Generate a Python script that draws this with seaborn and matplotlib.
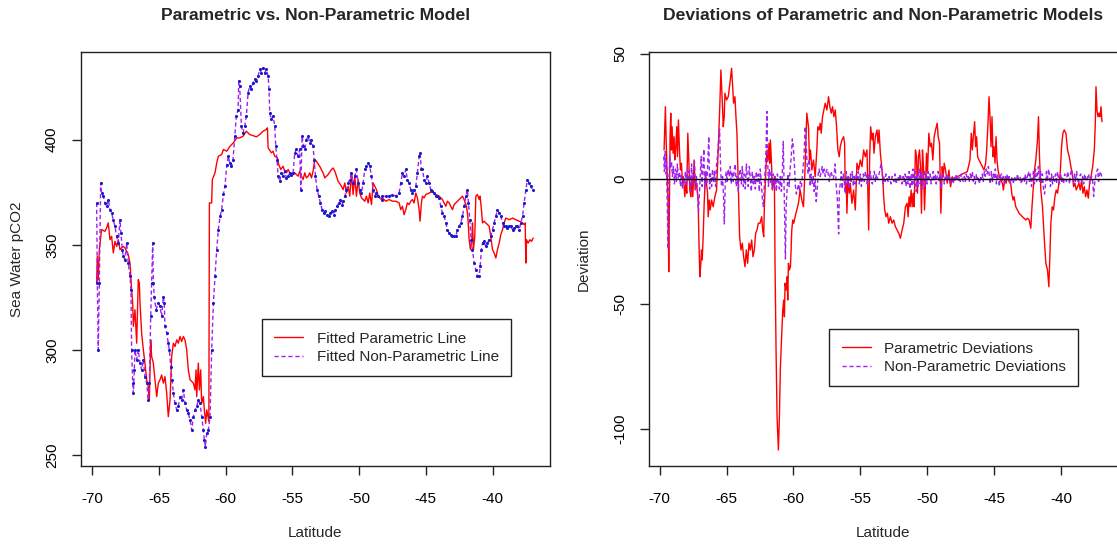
import matplotlib
matplotlib.use("Agg")
import matplotlib.pyplot as plt
import seaborn as sns
import pandas as pd

# ---------------------------------------------------------------------------
# Fitted sea-water pCO2 along the transect: (latitude, pCO2)
# ---------------------------------------------------------------------------
fit_parametric = [
    (-69.67, 331.8), (-69.62, 344.5), (-69.55, 333.4), (-69.47, 347.7), (-69.30, 357.2),
    (-69.05, 356.4), (-68.92, 358.0), (-68.80, 360.4), (-68.67, 352.4), (-68.55, 354.0),
    (-68.42, 346.1), (-68.30, 351.6), (-68.17, 349.2), (-68.05, 352.4), (-67.92, 347.7),
    (-67.67, 349.2), (-67.55, 348.5), (-67.30, 345.3), (-67.17, 341.3), (-67.10, 333.4),
    (-67.05, 328.6), (-66.97, 322.3), (-66.92, 311.2), (-66.80, 319.1), (-66.67, 303.2),
    (-66.55, 333.4), (-66.47, 331.8), (-66.42, 322.3), (-66.30, 308.0), (-66.17, 300.0),
    (-66.05, 293.7), (-65.92, 285.8), (-65.80, 282.6), (-65.72, 276.2), (-65.62, 304.8),
    (-65.55, 296.9), (-65.42, 293.7), (-65.30, 285.8), (-65.17, 277.8), (-65.05, 284.2),
    (-64.92, 285.8), (-64.80, 288.1), (-64.67, 284.2), (-64.55, 287.3), (-64.42, 279.4),
    (-64.30, 268.3), (-64.17, 276.2), (-64.05, 296.9), (-63.92, 303.2), (-63.80, 301.6),
    (-63.67, 304.8), (-63.55, 303.2), (-63.42, 306.4), (-63.30, 304.0), (-63.17, 306.4),
    (-63.05, 304.8), (-62.92, 300.0), (-62.80, 290.5), (-62.67, 285.8), (-62.42, 284.2),
    (-62.30, 281.0), (-62.22, 290.5), (-62.17, 277.8), (-62.05, 293.7), (-61.97, 281.0),
    (-61.87, 290.5), (-61.80, 274.6), (-61.67, 277.8), (-61.60, 271.5), (-61.50, 265.1),
    (-61.42, 271.5), (-61.26, 266.0), (-61.22, 369.9), (-61.05, 369.9), (-61.00, 381.0),
    (-60.80, 384.2), (-60.67, 388.9), (-60.55, 392.1), (-60.30, 392.9), (-60.17, 395.3),
    (-59.92, 394.5), (-59.67, 396.9), (-59.42, 398.5), (-59.17, 400.8), (-58.95, 400.8),
    (-58.70, 401.6), (-58.45, 404.0), (-58.20, 402.4), (-57.95, 401.9), (-57.70, 401.3),
    (-57.45, 402.4), (-57.20, 404.0), (-56.95, 404.8), (-56.87, 405.6), (-56.82, 396.1),
    (-56.57, 393.7), (-56.45, 394.5), (-56.32, 392.1), (-56.12, 391.3), (-56.02, 388.1),
    (-55.87, 385.8), (-55.70, 387.3), (-55.57, 385.0), (-55.45, 384.2), (-55.32, 385.8),
    (-55.07, 382.6), (-54.82, 384.2), (-54.57, 382.6), (-54.45, 385.0), (-54.32, 382.6),
    (-54.20, 381.0), (-54.07, 384.2), (-53.95, 381.8), (-53.82, 382.6), (-53.70, 384.2),
    (-53.57, 381.8), (-53.45, 385.0), (-53.32, 390.5), (-53.20, 389.7), (-52.95, 387.3),
    (-52.70, 384.2), (-52.57, 381.8), (-52.32, 383.4), (-52.07, 385.8), (-51.95, 386.5),
    (-51.82, 385.0), (-51.57, 380.2), (-51.32, 377.8), (-51.20, 376.2), (-51.07, 379.4),
    (-50.95, 374.6), (-50.82, 377.8), (-50.70, 373.1), (-50.57, 384.2), (-50.45, 373.9),
    (-50.32, 382.6), (-50.20, 373.1), (-50.07, 381.0), (-49.95, 374.6), (-49.82, 372.3),
    (-49.57, 370.7), (-49.45, 373.1), (-49.32, 369.9), (-49.20, 374.6), (-49.07, 369.1),
    (-48.95, 379.4), (-48.82, 377.8), (-48.70, 376.2), (-48.57, 373.1), (-48.32, 371.5),
    (-48.25, 372.3), (-48.00, 370.7), (-47.75, 371.5), (-47.50, 370.7), (-47.25, 370.7),
    (-47.00, 369.9), (-46.88, 366.7), (-46.75, 368.3), (-46.63, 364.3), (-46.50, 366.7),
    (-46.38, 369.9), (-46.25, 369.1), (-46.13, 370.7), (-46.00, 371.5), (-45.88, 369.9),
    (-45.75, 374.6), (-45.63, 372.3), (-45.50, 366.7), (-45.43, 361.2), (-45.33, 369.9),
    (-45.25, 373.1), (-45.13, 372.3), (-45.00, 373.9), (-44.75, 374.6), (-44.50, 375.4),
    (-44.25, 373.9), (-44.00, 373.1), (-43.75, 371.5), (-43.63, 369.9), (-43.50, 368.3),
    (-43.38, 370.7), (-43.25, 369.9), (-43.13, 368.3), (-43.00, 366.7), (-42.88, 369.1),
    (-42.75, 369.9), (-42.50, 371.5), (-42.25, 373.1), (-42.13, 371.5), (-41.95, 368.3),
    (-41.85, 363.5), (-41.75, 352.4), (-41.65, 347.7), (-41.55, 352.4), (-41.50, 360.4),
    (-41.43, 347.7), (-41.33, 354.0), (-41.25, 373.1), (-41.13, 373.9), (-41.00, 371.5),
    (-40.93, 373.1), (-40.83, 366.7), (-40.75, 360.4), (-40.63, 361.2), (-40.50, 360.4),
    (-40.38, 359.6), (-40.25, 358.8), (-40.13, 354.0), (-40.00, 347.7), (-39.88, 346.1),
    (-39.75, 343.7), (-39.63, 347.7), (-39.50, 350.8), (-39.38, 354.8), (-39.25, 357.2),
    (-39.13, 360.4), (-39.00, 362.7), (-38.75, 361.9), (-38.50, 362.7), (-38.25, 361.9),
    (-38.00, 361.2), (-37.75, 360.4), (-37.63, 359.6), (-37.55, 360.4), (-37.50, 341.3),
    (-37.45, 352.4), (-37.33, 350.8), (-37.20, 352.4), (-37.08, 351.6), (-36.95, 353.2),
]

fit_nonparametric = [
    (-69.67, 369.9), (-69.62, 331.8), (-69.55, 300.0), (-69.47, 331.8), (-69.37, 379.4),
    (-69.30, 374.6), (-69.17, 373.1), (-69.05, 369.9), (-68.92, 368.3), (-68.80, 371.5),
    (-68.67, 366.7), (-68.55, 365.1), (-68.42, 361.9), (-68.30, 358.8), (-68.17, 354.0),
    (-68.05, 350.8), (-67.92, 361.9), (-67.85, 355.6), (-67.75, 347.7), (-67.67, 344.5),
    (-67.55, 342.9), (-67.42, 350.8), (-67.30, 341.3), (-67.17, 335.0), (-67.10, 328.6),
    (-67.05, 300.0), (-66.97, 284.2), (-66.92, 279.4), (-66.85, 290.5), (-66.80, 300.0),
    (-66.67, 295.3), (-66.55, 300.0), (-66.42, 293.7), (-66.30, 290.5), (-66.17, 295.3),
    (-66.05, 287.3), (-65.92, 284.2), (-65.80, 276.2), (-65.72, 284.2), (-65.62, 315.9),
    (-65.55, 331.8), (-65.47, 350.8), (-65.42, 331.8), (-65.35, 325.4), (-65.22, 319.1),
    (-65.05, 322.3), (-64.92, 320.7), (-64.80, 315.9), (-64.67, 325.4), (-64.60, 322.3),
    (-64.55, 311.2), (-64.42, 308.0), (-64.30, 303.2), (-64.22, 300.0), (-64.12, 292.1),
    (-64.02, 285.8), (-63.92, 279.4), (-63.80, 274.6), (-63.67, 271.5), (-63.55, 273.1),
    (-63.42, 277.8), (-63.30, 276.2), (-63.17, 281.0), (-63.05, 274.6), (-62.92, 271.5),
    (-62.80, 269.9), (-62.67, 266.7), (-62.55, 261.9), (-62.42, 268.3), (-62.30, 271.5),
    (-62.17, 273.1), (-62.05, 276.2), (-61.92, 274.6), (-61.80, 268.3), (-61.67, 261.9),
    (-61.60, 257.2), (-61.52, 254.0), (-61.42, 260.4), (-61.30, 261.9), (-61.17, 268.3),
    (-61.05, 300.0), (-60.92, 322.3), (-60.80, 335.0), (-60.67, 347.7), (-60.55, 357.2),
    (-60.42, 363.5), (-60.30, 366.7), (-60.17, 374.0), (-60.05, 378.0), (-59.92, 388.0),
    (-59.80, 392.1), (-59.70, 388.9), (-59.57, 387.3), (-59.45, 390.5), (-59.32, 401.6),
    (-59.20, 411.2), (-59.07, 414.3), (-59.02, 427.8), (-58.95, 425.4), (-58.82, 406.4),
    (-58.70, 403.2), (-58.57, 406.4), (-58.45, 411.2), (-58.32, 422.3), (-58.20, 425.4),
    (-58.07, 423.9), (-57.95, 427.0), (-57.82, 428.6), (-57.70, 427.8), (-57.57, 430.2),
    (-57.45, 433.4), (-57.32, 431.8), (-57.20, 434.2), (-57.07, 431.8), (-56.95, 433.4),
    (-56.82, 430.2), (-56.75, 423.9), (-56.70, 412.7), (-56.57, 409.6), (-56.45, 411.2),
    (-56.32, 406.4), (-56.25, 396.9), (-56.15, 390.5), (-56.07, 382.6), (-55.95, 380.2),
    (-55.82, 384.2), (-55.70, 382.6), (-55.57, 385.0), (-55.45, 381.8), (-55.32, 382.6),
    (-55.20, 384.2), (-55.07, 383.4), (-54.95, 384.2), (-54.82, 393.7), (-54.70, 395.3),
    (-54.57, 392.1), (-54.45, 395.3), (-54.37, 376.2), (-54.27, 401.6), (-54.17, 396.9),
    (-54.07, 395.3), (-53.95, 400.0), (-53.82, 401.6), (-53.70, 398.5), (-53.57, 400.0),
    (-53.45, 396.9), (-53.37, 390.5), (-53.27, 382.6), (-53.15, 376.2), (-53.02, 373.1),
    (-52.90, 369.9), (-52.77, 366.7), (-52.65, 365.1), (-52.52, 365.9), (-52.40, 364.3),
    (-52.27, 363.5), (-52.15, 365.1), (-52.02, 365.9), (-51.90, 364.3), (-51.77, 366.7),
    (-51.65, 368.3), (-51.52, 369.9), (-51.40, 371.5), (-51.27, 369.1), (-51.20, 370.7),
    (-51.07, 373.1), (-50.95, 376.2), (-50.82, 379.4), (-50.70, 381.0), (-50.57, 384.2),
    (-50.45, 379.4), (-50.32, 382.6), (-50.20, 385.8), (-50.07, 379.4), (-49.95, 376.2),
    (-49.82, 374.6), (-49.70, 379.4), (-49.57, 385.8), (-49.45, 387.3), (-49.32, 388.9),
    (-49.20, 387.3), (-49.07, 382.6), (-48.95, 376.2), (-48.82, 373.1), (-48.70, 374.6),
    (-48.57, 373.1), (-48.32, 371.5), (-48.25, 373.1), (-48.00, 373.1), (-47.75, 373.1),
    (-47.50, 373.9), (-47.25, 373.1), (-47.00, 374.6), (-46.88, 379.4), (-46.75, 384.2),
    (-46.63, 382.6), (-46.50, 385.8), (-46.38, 381.0), (-46.25, 379.4), (-46.13, 376.2),
    (-46.00, 374.6), (-45.88, 376.2), (-45.75, 377.8), (-45.63, 384.2), (-45.50, 392.1),
    (-45.43, 393.7), (-45.33, 385.8), (-45.25, 385.8), (-45.13, 381.0), (-45.00, 379.4),
    (-44.88, 382.6), (-44.75, 379.4), (-44.63, 376.2), (-44.50, 375.4), (-44.38, 374.6),
    (-44.25, 373.1), (-44.13, 373.1), (-44.00, 372.3), (-43.88, 368.3), (-43.75, 365.1),
    (-43.63, 363.5), (-43.50, 360.4), (-43.38, 357.2), (-43.25, 355.6), (-43.13, 354.8),
    (-43.00, 354.0), (-42.88, 354.0), (-42.75, 354.0), (-42.63, 357.2), (-42.50, 358.8),
    (-42.38, 360.4), (-42.25, 363.5), (-42.13, 368.3), (-42.00, 373.1), (-41.88, 376.2),
    (-41.80, 369.9), (-41.70, 361.9), (-41.60, 352.4), (-41.50, 347.7), (-41.38, 341.3),
    (-41.25, 338.1), (-41.13, 335.0), (-41.00, 335.0), (-40.93, 339.7), (-40.83, 347.7),
    (-40.75, 350.8), (-40.63, 351.6), (-40.50, 349.2), (-40.38, 350.8), (-40.25, 352.4),
    (-40.13, 354.0), (-40.00, 357.2), (-39.88, 360.4), (-39.75, 363.5), (-39.63, 366.7),
    (-39.50, 365.1), (-39.38, 363.5), (-39.25, 360.4), (-39.13, 358.8), (-39.00, 358.8),
    (-38.88, 358.0), (-38.75, 358.8), (-38.63, 358.8), (-38.50, 357.2), (-38.38, 358.0),
    (-38.25, 358.8), (-38.13, 358.8), (-38.00, 357.2), (-37.88, 360.4), (-37.75, 363.5),
    (-37.63, 369.9), (-37.50, 376.2), (-37.38, 381.0), (-37.25, 379.4), (-37.13, 377.8),
    (-37.00, 376.2),
]

# ---------------------------------------------------------------------------
# Deviations of each model along the transect: (latitude, deviation)
# ---------------------------------------------------------------------------
dev_parametric = [
    (-69.675, 11.6), (-69.575, 28.9), (-69.5, 11.6), (-69.425, -1.7), (-69.375, -9.7),
    (-69.325, -37.1), (-69.275, -8.4), (-69.225, 16.9), (-69.175, 26.3), (-69.125, 11.6),
    (-69.075, 20.9), (-69.0, 10.3), (-68.925, 16.9), (-68.875, 7.6), (-68.8, 12.9),
    (-68.725, 20.9), (-68.675, 8.9), (-68.6, 23.6), (-68.525, 11.6), (-68.45, 3.6),
    (-68.375, 6.3), (-68.3, -1.7), (-68.225, 0.9), (-68.125, -7.1), (-68.05, -1.7),
    (-67.975, -5.7), (-67.9, 18.3), (-67.825, 7.6), (-67.75, -4.4), (-67.675, -7.1),
    (-67.6, 0.9), (-67.525, -7.1), (-67.425, 7.6), (-67.35, -4.4), (-67.25, -1.7),
    (-67.125, -8.4), (-67.075, -23.1), (-67.0, -39.1), (-66.925, -33.7), (-66.875, -28.4),
    (-66.825, -32.4), (-66.75, -23.1), (-66.675, -9.7), (-66.575, 2.3), (-66.5, -1.7),
    (-66.425, -5.7), (-66.375, -15.1), (-66.3, -8.4), (-66.225, -12.4), (-66.125, -8.4),
    (-66.0, -11.1), (-65.875, -7.1), (-65.75, -4.4), (-65.625, 11.6), (-65.5, 30.3),
    (-65.425, 43.6), (-65.325, 31.6), (-65.25, 20.9), (-65.175, 24.9), (-65.125, 34.3),
    (-65.0, 31.6), (-64.875, 32.9), (-64.75, 38.3), (-64.625, 44.3), (-64.55, 36.9),
    (-64.475, 30.3), (-64.375, 32.9), (-64.3, 24.9), (-64.225, 18.3), (-64.175, 7.6),
    (-64.1, -8.4), (-64.025, -23.1), (-63.925, -28.4), (-63.825, -25.7), (-63.725, -31.1),
    (-63.625, -35.1), (-63.525, -28.4), (-63.425, -33.7), (-63.325, -25.7), (-63.225, -28.4),
    (-63.125, -24.4), (-63.025, -31.1), (-62.925, -28.4), (-62.825, -21.7), (-62.725, -20.4),
    (-62.625, -17.7), (-62.5, -17.7), (-62.375, -15.1), (-62.3, -20.4), (-62.225, -23.1),
    (-62.175, -11.1), (-62.125, -4.4), (-62.05, 4.9), (-61.975, 11.6), (-61.9, 7.6),
    (-61.825, 14.3), (-61.775, 6.3), (-61.725, 15.6), (-61.65, 7.6), (-61.575, -4.4),
    (-61.5, -1.7), (-61.425, 0.9), (-61.375, -35.1), (-61.3, -68.4), (-61.225, -95.1),
    (-61.125, -108.4), (-61.05, -95.1), (-60.975, -75.1), (-60.875, -61.7), (-60.8, -52.4),
    (-60.725, -48.4), (-60.675, -55.1), (-60.625, -41.7), (-60.55, -44.4), (-60.475, -39.1),
    (-60.425, -48.4), (-60.375, -33.7), (-60.3, -36.4), (-60.225, -35.1), (-60.175, -28.4),
    (-60.125, -20.4), (-60.05, -16.4), (-59.975, -17.7), (-59.875, -15.1), (-59.75, -12.4),
    (-59.625, -9.7), (-59.5, -4.4), (-59.375, -8.4), (-59.25, -11.1), (-59.125, 4.9),
    (-59.0, 26.3), (-58.875, 20.9), (-58.8, 7.6), (-58.725, 11.6), (-58.625, 3.6),
    (-58.5, 7.6), (-58.375, 0.9), (-58.25, 11.6), (-58.175, 20.9), (-58.075, 19.6),
    (-58.0, 22.3), (-57.925, 18.3), (-57.825, 24.9), (-57.725, 27.6), (-57.625, 30.3),
    (-57.5, 27.6), (-57.375, 32.9), (-57.275, 28.9), (-57.175, 26.3), (-57.075, 28.9),
    (-56.975, 24.9), (-56.875, 27.6), (-56.775, 20.9), (-56.675, 11.6), (-56.575, 8.9),
    (-56.5, 12.9), (-56.375, 15.6), (-56.25, 16.9), (-56.175, 14.3), (-56.125, -4.4),
    (-56.05, -1.7), (-56.0, -13.7), (-55.925, 0.9), (-55.825, -5.7), (-55.75, -1.7),
    (-55.625, -9.7), (-55.5, -4.4), (-55.375, -12.4), (-55.25, 6.3), (-55.125, 3.6),
    (-55.0, 7.6), (-54.875, 4.9), (-54.75, 11.6), (-54.625, 8.9), (-54.5, 11.6),
    (-54.375, -20.4), (-54.3, 8.9), (-54.225, 20.9), (-54.125, 15.6), (-54.05, 18.3),
    (-53.975, 10.3), (-53.875, 16.9), (-53.75, 19.6), (-53.675, 14.3), (-53.6, 19.6),
    (-53.5, 10.3), (-53.425, 6.3), (-53.325, 0.9), (-53.25, -7.1), (-53.175, -12.4),
    (-53.075, -15.1), (-52.975, -13.7), (-52.875, -17.7), (-52.75, -15.1), (-52.625, -17.7),
    (-52.5, -16.4), (-52.375, -19.1), (-52.25, -20.4), (-52.125, -21.7), (-52.0, -23.7),
    (-51.875, -20.4), (-51.75, -17.7), (-51.625, -11.1), (-51.5, -9.7), (-51.425, -15.1),
    (-51.35, -7.1), (-51.275, -11.1), (-51.2, -4.4), (-51.125, -11.1), (-51.05, -5.7),
    (-50.975, -11.1), (-50.875, 11.6), (-50.8, 8.9), (-50.725, -5.7), (-50.65, 8.9),
    (-50.575, 11.6), (-50.5, 4.9), (-50.425, -13.7), (-50.35, 11.6), (-50.275, 4.9),
    (-50.2, -12.4), (-50.125, -1.7), (-50.05, 10.3), (-49.975, 2.3), (-49.875, 18.3),
    (-49.775, 12.9), (-49.675, 14.3), (-49.575, 7.6), (-49.475, 16.9), (-49.375, 19.6),
    (-49.25, 22.3), (-49.175, 16.9), (-49.075, 14.3), (-48.975, -13.7), (-48.875, 4.9),
    (-48.8, 0.9), (-48.725, 6.3), (-48.625, 3.6), (-48.5, -1.7), (-48.375, 3.6),
    (-48.25, -3.1), (-48.125, 0.9), (-48.0, -0.4), (-47.75, 0.9), (-47.5, 1.6),
    (-47.25, 2.3), (-47.0, 2.9), (-46.8, 7.6), (-46.7, 18.3), (-46.625, 11.6),
    (-46.55, 16.9), (-46.45, 22.9), (-46.375, 12.9), (-46.3, 16.9), (-46.225, 8.9),
    (-46.125, 7.6), (-46.0, 6.3), (-45.875, 4.9), (-45.75, 3.6), (-45.625, 6.3),
    (-45.55, 11.6), (-45.45, 22.3), (-45.375, 32.9), (-45.3, 24.9), (-45.225, 12.9),
    (-45.15, 24.9), (-45.075, 8.9), (-45.0, 12.9), (-44.925, 6.3), (-44.85, 16.9),
    (-44.775, 7.6), (-44.7, 3.6), (-44.6, 0.9), (-44.5, -0.4), (-44.375, -1.7),
    (-44.3, -4.4), (-44.2, -0.4), (-44.1, -1.7), (-44.0, 0.9), (-43.875, -1.1),
    (-43.75, -1.7), (-43.675, -5.7), (-43.575, -8.4), (-43.5, -7.1), (-43.375, -11.1),
    (-43.25, -12.4), (-43.125, -13.7), (-43.0, -14.4), (-42.875, -15.1), (-42.75, -15.7),
    (-42.625, -16.4), (-42.5, -15.7), (-42.375, -16.4), (-42.25, -19.7), (-42.175, -12.4),
    (-42.075, -4.4), (-42.0, 2.3), (-41.875, 7.6), (-41.75, 15.6), (-41.675, 24.9),
    (-41.6, 8.9), (-41.5, -4.4), (-41.375, -11.1), (-41.25, -23.1), (-41.125, -33.7),
    (-41.0, -36.4), (-40.9, -43.1), (-40.825, -31.1), (-40.75, -17.7), (-40.65, -11.1),
    (-40.55, -12.4), (-40.45, -7.1), (-40.35, -4.4), (-40.25, -5.7), (-40.15, -1.7),
    (-40.05, 2.3), (-39.95, 12.9), (-39.85, 18.3), (-39.75, 19.6), (-39.625, 18.3),
    (-39.5, 11.6), (-39.375, 8.9), (-39.25, 4.9), (-39.125, 0.9), (-39.05, -3.1),
    (-38.95, -1.7), (-38.85, -4.4), (-38.75, -3.1), (-38.65, -1.7), (-38.55, -4.4),
    (-38.45, -0.4), (-38.35, -5.7), (-38.25, -3.1), (-38.15, -7.1), (-38.05, -4.4),
    (-37.95, -7.7), (-37.85, -1.7), (-37.75, 0.9), (-37.625, 4.9), (-37.5, 11.6),
    (-37.425, 22.3), (-37.375, 36.9), (-37.3, 27.6), (-37.225, 24.9), (-37.15, 26.3),
    (-37.075, 24.9), (-37.0, 28.9), (-36.925, 22.9),
]

dev_nonparametric = [
    (-69.70, 9), (-69.65, 3), (-69.60, 11), (-69.55, 2), (-69.50, 7), (-69.45, -6),
    (-69.38, -28), (-69.32, -2), (-69.25, 9), (-69.20, 4), (-69.12, 7), (-69.05, 1),
    (-68.98, 5), (-68.90, -2), (-68.82, 4), (-68.75, -1), (-68.68, 6), (-68.60, 0),
    (-68.52, 3), (-68.45, -3), (-68.38, 2), (-68.30, -4), (-68.22, 1), (-68.15, -2),
    (-68.08, 3), (-68.00, -3), (-67.92, 5), (-67.85, -1), (-67.78, 3), (-67.70, -5),
    (-67.62, 6), (-67.55, -2), (-67.48, 4), (-67.40, 7), (-67.32, -4), (-67.25, 1),
    (-67.18, -5), (-67.10, -13), (-67.04, -7), (-66.97, 1), (-66.90, 9), (-66.83, -3),
    (-66.76, 5), (-66.70, 12), (-66.63, -4), (-66.55, 3), (-66.48, -2), (-66.38, 10),
    (-66.33, 17), (-66.27, -4), (-66.20, 2), (-66.12, -3), (-66.05, 4), (-65.97, -1),
    (-65.90, 3), (-65.82, -3), (-65.75, 6), (-65.68, 9), (-65.60, 15), (-65.52, 20),
    (-65.45, 5), (-65.38, -3), (-65.30, 1), (-65.22, -8), (-65.17, -18), (-65.10, -2),
    (-65.03, 3), (-64.96, -1), (-64.88, 4), (-64.80, 1), (-64.72, 5), (-64.65, -2),
    (-64.58, 3), (-64.50, -1), (-64.42, 4), (-64.35, 6), (-64.28, -3), (-64.20, 1),
    (-64.12, -5), (-64.05, 2), (-63.97, 4), (-63.90, -2), (-63.82, 5), (-63.75, -3),
    (-63.68, 2), (-63.60, -4), (-63.52, 6), (-63.45, 1), (-63.38, -3), (-63.30, 5),
    (-63.22, 0), (-63.15, -5), (-63.08, 3), (-63.00, -2), (-62.93, 1), (-62.85, -4),
    (-62.78, 3), (-62.70, -1), (-62.62, 2), (-62.55, -5), (-62.48, 4), (-62.40, -2),
    (-62.32, -8), (-62.25, -11), (-62.18, -3), (-62.10, 5), (-62.04, 14), (-61.98, 27),
    (-61.93, 8), (-61.87, -3), (-61.80, 4), (-61.72, -2), (-61.65, 3), (-61.58, -4),
    (-61.50, 2), (-61.42, -3), (-61.35, 1), (-61.28, -5), (-61.20, 2), (-61.12, -2),
    (-61.05, -4), (-60.98, 1), (-60.90, -5), (-60.83, 3), (-60.76, 15), (-60.70, -2),
    (-60.64, -18), (-60.60, -32), (-60.55, -12), (-60.48, -4), (-60.40, 2), (-60.32, -3),
    (-60.25, 4), (-60.18, 8), (-60.08, 16), (-60.00, 12), (-59.92, 5), (-59.85, -3),
    (-59.78, -6), (-59.70, -4), (-59.62, -2), (-59.55, -5), (-59.48, -1), (-59.40, -3),
    (-59.32, 2), (-59.22, 8), (-59.12, 21), (-59.05, 14), (-58.98, 6), (-58.90, 2),
    (-58.82, 8), (-58.75, -3), (-58.68, 2), (-58.60, -2), (-58.52, 1), (-58.45, -5),
    (-58.38, 0), (-58.30, -9), (-58.22, -4), (-58.15, 2), (-58.08, 4), (-58.00, 1),
    (-57.92, 3), (-57.85, 5), (-57.78, 2), (-57.70, 4), (-57.62, 1), (-57.55, 3),
    (-57.48, 4), (-57.40, 2), (-57.32, -1), (-57.25, 2), (-57.18, 3), (-57.10, 1),
    (-57.02, 0), (-56.95, 2), (-56.88, 6), (-56.80, -3), (-56.72, -8), (-56.66, -16),
    (-56.62, -22), (-56.57, -5), (-56.50, -2), (-56.42, 3), (-56.35, -4), (-56.28, 2),
    (-56.20, -1), (-56.12, -6), (-56.05, 3), (-55.98, -2), (-55.90, 1), (-55.82, -4),
    (-55.75, 2), (-55.68, -1), (-55.60, 3), (-55.52, -3), (-55.45, 1), (-55.38, -2),
    (-55.30, 2), (-55.22, -1), (-55.15, 3), (-55.08, -2), (-55.00, 2), (-54.92, -3),
    (-54.85, 0), (-54.78, 2), (-54.70, -1), (-54.62, 3), (-54.55, 1), (-54.48, -2),
    (-54.40, 2), (-54.32, -1), (-54.25, 3), (-54.18, 0), (-54.10, -2), (-54.02, 1),
    (-53.95, 3), (-53.88, -1), (-53.80, 2), (-53.72, 0), (-53.65, 1), (-53.55, 3),
    (-53.45, 6), (-53.38, 3), (-53.30, -2), (-53.22, 1), (-53.15, -1), (-53.08, 2),
    (-53.00, 0), (-52.92, -1), (-52.85, 1), (-52.78, 0), (-52.70, -2), (-52.62, 1),
    (-52.55, 0), (-52.48, -1), (-52.40, 2), (-52.32, -2), (-52.25, 0), (-52.18, 1),
    (-52.10, -1), (-52.02, 2), (-51.95, 0), (-51.88, -2), (-51.80, 1), (-51.72, -1),
    (-51.65, 2), (-51.58, -3), (-51.50, 1), (-51.42, -2), (-51.35, 3), (-51.28, -4),
    (-51.20, 2), (-51.12, -3), (-51.05, 4), (-50.98, -2), (-50.90, 3), (-50.82, -5),
    (-50.75, 2), (-50.68, -3), (-50.60, 4), (-50.52, -2), (-50.45, 3), (-50.38, -4),
    (-50.30, 1), (-50.22, 3), (-50.15, -3), (-50.08, 2), (-50.00, -2), (-49.92, 3),
    (-49.85, 0), (-49.78, 2), (-49.70, -2), (-49.62, 1), (-49.55, 3), (-49.48, -1),
    (-49.40, 2), (-49.32, -2), (-49.25, 1), (-49.18, 3), (-49.10, -1), (-49.02, 2),
    (-48.95, -4), (-48.88, 1), (-48.80, 2), (-48.72, -2), (-48.65, 1), (-48.58, 0),
    (-48.50, 2), (-48.42, -1), (-48.35, 1), (-48.28, -2), (-48.20, 1), (-48.12, 0),
    (-48.05, -2), (-47.98, 1), (-47.90, -1), (-47.82, 2), (-47.75, 0), (-47.68, -1),
    (-47.60, 1), (-47.52, -1), (-47.45, 2), (-47.38, 0), (-47.30, -1), (-47.22, 1),
    (-47.15, -1), (-47.08, 2), (-47.00, 0), (-46.92, 1), (-46.85, -1), (-46.78, 2),
    (-46.70, 0), (-46.62, 3), (-46.55, -1), (-46.48, 1), (-46.40, -2), (-46.32, 2),
    (-46.25, 0), (-46.18, 1), (-46.10, -2), (-46.02, 1), (-45.95, 0), (-45.88, 2),
    (-45.80, -1), (-45.72, 3), (-45.65, 1), (-45.58, 4), (-45.50, 2), (-45.42, 5),
    (-45.35, 1), (-45.28, -2), (-45.20, 3), (-45.12, -1), (-45.05, 2), (-44.98, 0),
    (-44.90, 4), (-44.82, -2), (-44.75, 2), (-44.68, 0), (-44.60, -3), (-44.52, 1),
    (-44.45, 2), (-44.38, -1), (-44.30, 1), (-44.22, -2), (-44.15, 1), (-44.08, 0),
    (-44.00, 2), (-43.92, -1), (-43.85, 1), (-43.78, -2), (-43.70, 0), (-43.62, 1),
    (-43.55, -2), (-43.48, 1), (-43.40, 0), (-43.32, -1), (-43.25, 2), (-43.18, 0),
    (-43.10, -1), (-43.02, 1), (-42.95, -2), (-42.88, 0), (-42.80, 1), (-42.72, -1),
    (-42.65, 2), (-42.58, -2), (-42.50, 1), (-42.42, 3), (-42.35, -1), (-42.28, 2),
    (-42.20, -3), (-42.12, 1), (-42.05, 3), (-41.98, -2), (-41.90, 4), (-41.82, -1),
    (-41.75, 2), (-41.68, 5), (-41.60, -1), (-41.52, 3), (-41.45, -2), (-41.38, 2),
    (-41.30, -4), (-41.22, -6), (-41.15, -2), (-41.08, 3), (-41.00, -1), (-40.92, 4),
    (-40.85, 1), (-40.78, -3), (-40.70, 2), (-40.62, -2), (-40.55, 1), (-40.48, -1),
    (-40.40, 2), (-40.32, -2), (-40.25, 3), (-40.18, 0), (-40.10, -2), (-40.02, 2),
    (-39.95, -1), (-39.88, 1), (-39.80, -2), (-39.72, 2), (-39.65, 0), (-39.58, -1),
    (-39.50, 3), (-39.42, 1), (-39.35, -2), (-39.28, 2), (-39.20, 4), (-39.12, 1),
    (-39.05, -2), (-38.98, 2), (-38.90, -1), (-38.82, 3), (-38.75, 0), (-38.68, -2),
    (-38.60, 1), (-38.52, 2), (-38.45, -1), (-38.38, 1), (-38.30, -2), (-38.22, 2),
    (-38.15, 0), (-38.08, -1), (-38.00, 1), (-37.92, 2), (-37.85, -2), (-37.78, 0),
    (-37.70, 1), (-37.62, -1), (-37.55, -7), (-37.48, -2), (-37.40, 1), (-37.32, 3),
    (-37.25, 4), (-37.18, -1), (-37.10, 2), (-37.02, 3), (-36.95, 1),
]

# Axis ticks
lat_ticks = [-70, -65, -60, -55, -50, -45, -40]
pco2_ticks = [250, 300, 350, 400]
dev_ticks = [-100, -50, 0, 50]

PARAM_COLOR = "#ff0000"
NONPARAM_COLOR = "#a020f0"
OBS_COLOR = "#1a1acc"


def to_frame(pairs, name):
    lat, val = zip(*pairs)
    return pd.DataFrame({"Latitude": lat, name: val})


df_fit_p = to_frame(fit_parametric, "pCO2")
df_fit_np = to_frame(fit_nonparametric, "pCO2")
df_dev_p = to_frame(dev_parametric, "Deviation")
df_dev_np = to_frame(dev_nonparametric, "Deviation")

sns.set_theme(style="white")
plt.rcParams["font.family"] = ["Liberation Sans", "DejaVu Sans"]
plt.rcParams["axes.unicode_minus"] = False
plt.rcParams["axes.linewidth"] = 1.0

fig = plt.figure(figsize=(11.17, 5.46), dpi=100)
ax1 = fig.add_axes([0.0722, 0.1465, 0.4202, 0.7588])
ax2 = fig.add_axes([0.5808, 0.1465, 0.4202, 0.7588])

# --- left: fitted curves with the smoothed track marked as dots ------------
sns.lineplot(data=df_fit_p, x="Latitude", y="pCO2", ax=ax1, color=PARAM_COLOR,
             linewidth=1.0, estimator=None, sort=False, zorder=3)
sns.lineplot(data=df_fit_np, x="Latitude", y="pCO2", ax=ax1, color=NONPARAM_COLOR,
             linewidth=1.0, estimator=None, sort=False, zorder=4,
             linestyle=(0, (3, 2)))
sns.scatterplot(data=df_fit_np, x="Latitude", y="pCO2", ax=ax1, color=OBS_COLOR,
                s=5, linewidth=0, zorder=5)
ax1.set_xlim(-70.87, -35.69)
ax1.set_ylim(244.8, 441.8)
ax1.set_yticks(pco2_ticks)

# --- right: deviations -----------------------------------------------------
sns.lineplot(data=df_dev_p, x="Latitude", y="Deviation", ax=ax2, color=PARAM_COLOR,
             linewidth=1.0, estimator=None, sort=False, zorder=3)
sns.lineplot(data=df_dev_np, x="Latitude", y="Deviation", ax=ax2, color=NONPARAM_COLOR,
             linewidth=1.0, estimator=None, sort=False, zorder=4,
             linestyle=(0, (3, 2)))
ax2.axhline(0, color="black", linewidth=1.0, zorder=5)
ax2.set_xlim(-70.82, -35.72)
ax2.set_ylim(-114.8, 50.9)
ax2.set_yticks(dev_ticks)

titles = ["Parametric vs. Non-Parametric Model",
          "Deviations of Parametric and Non-Parametric Models"]
ylabels = ["Sea Water pCO2", "Deviation"]
legend_labels = [["Fitted Parametric Line", "Fitted Non-Parametric Line"],
                 ["Parametric Deviations", "Non-Parametric Deviations"]]
legend_anchor = [(0.3863, 0.3541), (0.3848, 0.330)]
ylabel_x = [-0.1349, -0.1379]

for i, ax in enumerate([ax1, ax2]):
    ax.set_xticks(lat_ticks)
    for sp in ax.spines.values():
        sp.set_visible(True)
        sp.set_color("#222222")
        sp.set_linewidth(1.0)
    ax.tick_params(axis="both", which="major", direction="out", length=6.5,
                   width=1.0, color="#222222", labelsize=11, labelcolor="black",
                   bottom=True, left=True, pad=9)
    ax.tick_params(axis="x", pad=12)
    ax.tick_params(axis="y", labelrotation=90)
    for lbl in ax.get_yticklabels():
        lbl.set_va("center")
    ax.grid(False)
    ax.set_facecolor("white")
    ax.set_xlabel("Latitude", fontsize=11)
    ax.xaxis.set_label_coords(0.5, -0.1617)
    ax.xaxis.label.set_va("center")
    ax.set_ylabel(ylabels[i], fontsize=11)
    ax.yaxis.set_label_coords(ylabel_x[i], 0.5)
    ax.yaxis.label.set_va("center")
    ax.text(0.5, 1.087, titles[i], transform=ax.transAxes, ha="center",
            va="center", fontsize=12.6, fontweight="bold")
    lines = ax.get_lines()
    handles = [lines[0], lines[1]]
    leg = ax.legend(handles, legend_labels[i], loc="upper left",
                    bbox_to_anchor=legend_anchor[i], borderaxespad=0,
                    fontsize=11, frameon=True, fancybox=False, framealpha=1,
                    edgecolor="#222222", borderpad=0.8, handlelength=1.9,
                    handletextpad=0.9, labelspacing=0.31)
    leg.get_frame().set_linewidth(1.0)

fig.savefig("out.png", dpi=100, facecolor="white")
